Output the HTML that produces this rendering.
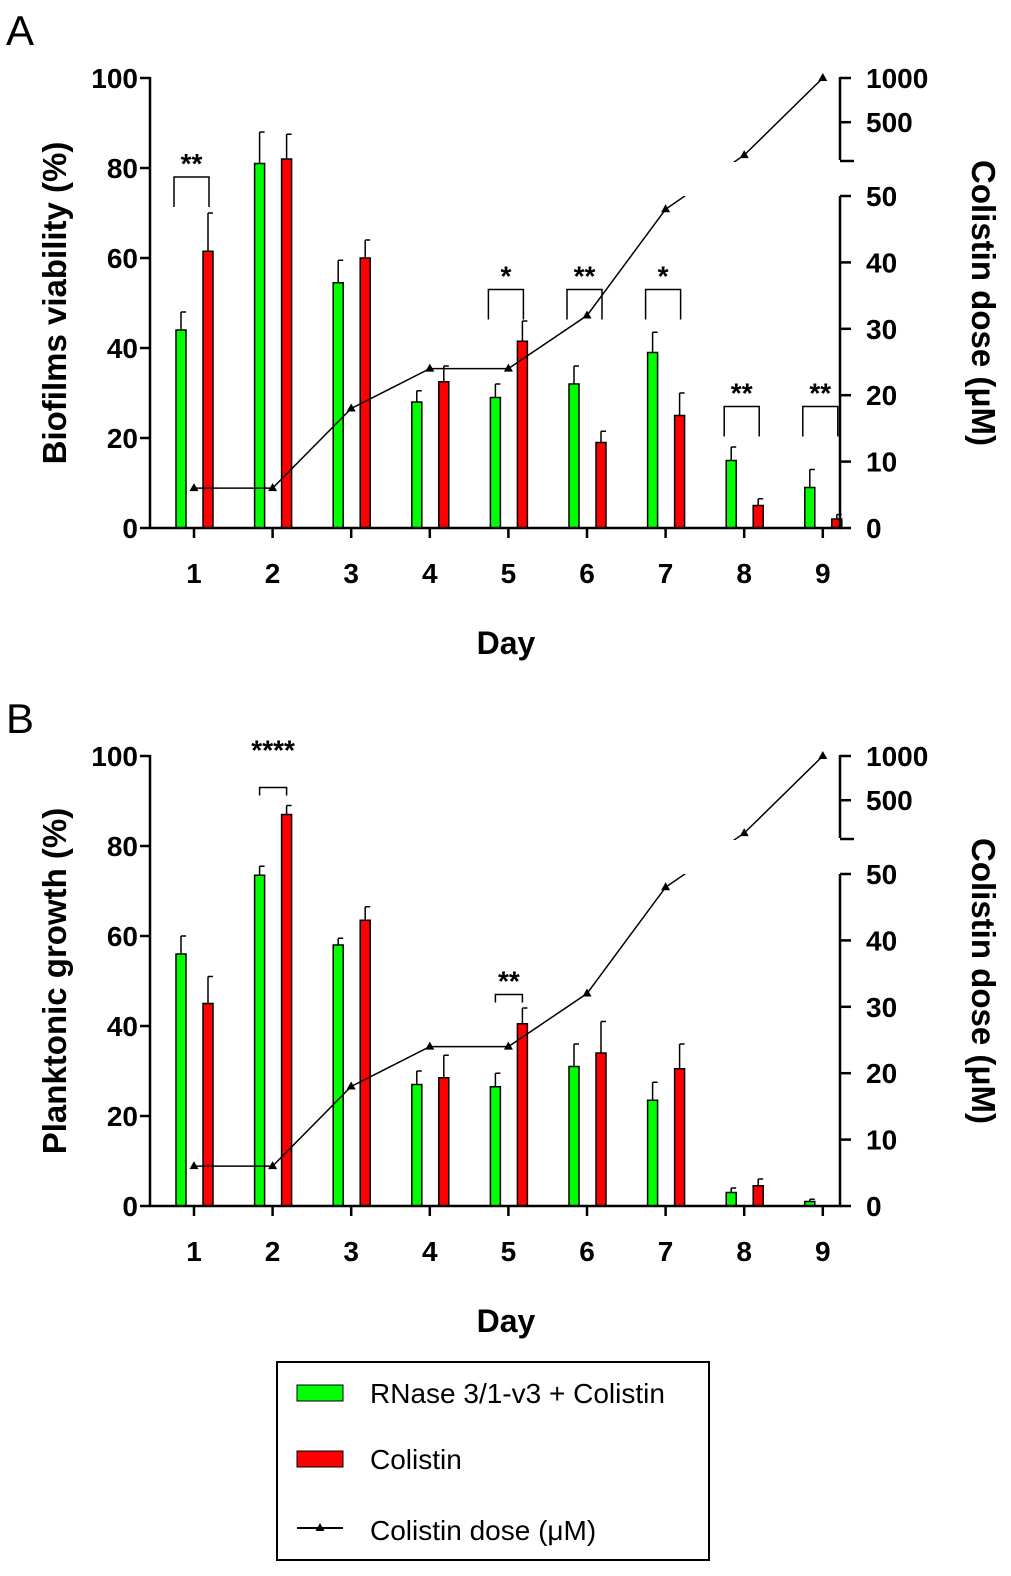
<!DOCTYPE html>
<html><head><meta charset="utf-8"><style>
body{margin:0;background:#fff}
svg{display:block;font-family:"Liberation Sans",Arial,sans-serif}
</style></head><body>
<svg id="chart" width="1011" height="1576" viewBox="0 0 1011 1576" xmlns="http://www.w3.org/2000/svg">
<text x="6" y="45" font-size="42">A</text>
<text x="6" y="733" font-size="42">B</text>
<g id="legend">
<rect x="277" y="1362" width="432" height="198" fill="none" stroke="#000" stroke-width="2"/>
<rect x="297" y="1385" width="46" height="16" fill="#00ff00" stroke="#000"/>
<text x="370" y="1403" font-size="28">RNase 3/1-v3 + Colistin</text>
<rect x="297" y="1451" width="46" height="16" fill="#ff0000" stroke="#000"/>
<text x="370" y="1469" font-size="28">Colistin</text>
<line x1="297" y1="1528" x2="343" y2="1528" stroke="#000" stroke-width="2"/>
<polygon points="320,1523 324.5,1531 315.5,1531" fill="#000"/>
<text x="370" y="1540" font-size="28">Colistin dose (μM)</text>
</g>
</svg>
<script>
const days = [1,2,3,4,5,6,7,8,9];
const doseValues = [6,6,18,24,24,32,48,128,1000];
const aGreen = [44,81,54.5,28,29,32,39,15,9];
const aGreenErr = [4,7,5,2.5,3,4,4.5,3,4];
const aRed = [61.5,82,60,32.5,41.5,19,25,5,2];
const aRedErr = [8.5,5.5,4,3.5,4.5,2.5,5,1.5,1];
const bGreen = [56,73.5,58,27,26.5,31,23.5,3,1];
const bGreenErr = [4,2,1.5,3,3,5,4,1,0.5];
const bRed = [45,87,63.5,28.5,40.5,34,30.5,4.5,0];
const bRedErr = [6,2,3,5,3.5,7,5.5,1.5,0];
const leftTicks = [0,20,40,60,80,100];
const rightLowTicks = [0,10,20,30,40,50];
const rightHighTicks = [500,1000];
const aSig = [{day:1,label:"**",h:78},{day:5,label:"*",h:53},{day:6,label:"**",h:53},{day:7,label:"*",h:53},{day:8,label:"**",h:27},{day:9,label:"**",h:27}];
const bSig = [{day:2,label:"****",h:93},{day:5,label:"**",h:47}];

const svg = document.getElementById('chart');
const NS = 'http://www.w3.org/2000/svg';
function mk(tag, attrs, parent){const e=document.createElementNS(NS,tag);for(const k in attrs)e.setAttribute(k,attrs[k]);(parent||svg).appendChild(e);return e;}

function panel(y0, green, gErr, red, rErr, sig, ytitle, key){
  const g = mk('g',{});
  
  
  const yL = v => y0 - v*4.5;
  const xD = d => 194 + (d-1)*78.6;
  const yR = v => v<=50 ? y0 - v*6.64 : (y0-366) - (v-50)/950*84;
  days.forEach((d,i)=>{
    const gx = xD(d)-18, rx = xD(d)+9;
    [[gx,green[i],gErr[i],'#00ff00','green'],[rx,red[i],rErr[i],'#ff0000','red']].forEach(([x,v,e,c,n])=>{
      if(v<=0) return;
      const r = mk('rect',{x:x,y:yL(v),width:10,height:v*4.5,fill:c,stroke:'#000','stroke-width':1.5},g);
      
      
      mk('line',{x1:x+5,x2:x+5,y1:yL(v),y2:yL(v+e),stroke:'#000','stroke-width':1.5},g);
      mk('line',{x1:x+5,x2:x+10,y1:yL(v+e),y2:yL(v+e),stroke:'#000','stroke-width':1.5},g);
    });
  });
  const pts = days.map((d,i)=>xD(d)+','+yR(doseValues[i])).join(' ');
  const pl = mk('polyline',{points:pts,fill:'none',stroke:'#000','stroke-width':1.5},g);
  
  
  mk('rect',{x:600,y:y0-366,width:240,height:34,fill:'#fff'},g);
  days.forEach((d,i)=>{
    const x=xD(d), y=yR(doseValues[i]);
    const m = mk('polygon',{points:`${x},${y-5} ${x+4.5},${y+3} ${x-4.5},${y+3}`,fill:'#000'},g);
    
    
  });
  mk('line',{x1:150,x2:150,y1:y0+1,y2:yL(100)-1,stroke:'#000','stroke-width':2.5},g);
  leftTicks.forEach(t=>{
    mk('line',{x1:140,x2:150,y1:yL(t),y2:yL(t),stroke:'#000','stroke-width':2.5},g);
    const tx = mk('text',{x:138,y:yL(t)+10,'font-size':28,'font-weight':'bold','text-anchor':'end'},g);
    tx.textContent=t;
  });
  mk('line',{x1:150,x2:841,y1:y0,y2:y0,stroke:'#000','stroke-width':2.5},g);
  days.forEach(d=>{
    mk('line',{x1:xD(d),x2:xD(d),y1:y0,y2:y0+10,stroke:'#000','stroke-width':2.5},g);
    const tx = mk('text',{x:xD(d),y:y0+55,'font-size':28,'font-weight':'bold','text-anchor':'middle'},g);
    tx.textContent=d;
  });
  mk('line',{x1:840,x2:840,y1:y0+1,y2:yR(50),stroke:'#000','stroke-width':2.5},g);
  mk('line',{x1:840,x2:840,y1:y0-368,y2:yR(1000)-1,stroke:'#000','stroke-width':2.5},g);
  mk('line',{x1:840,x2:854,y1:y0-367,y2:y0-367,stroke:'#000','stroke-width':2.5},g);
  rightLowTicks.concat(rightHighTicks).forEach(t=>{
    mk('line',{x1:840,x2:851,y1:yR(t),y2:yR(t),stroke:'#000','stroke-width':2.5},g);
    const tx = mk('text',{x:866,y:yR(t)+10,'font-size':28,'font-weight':'bold'},g);
    tx.textContent=t;
  });
  sig.forEach(s=>{
    const x1 = xD(s.day)-(key==='b'?13:20), x2 = xD(s.day)+(key==='b'?14:15);
    const yt = yL(s.h);
    mk('polyline',{points:`${x1},${yt+(key==='b'?8:30)} ${x1},${yt} ${x2},${yt} ${x2},${yt+(key==='b'?8:30)}`,fill:'none',stroke:'#000','stroke-width':1.5},g);
    const tx = mk('text',{x:(x1+x2)/2,y:key==='b'&&s.day===2?yt-28:yt-4,'font-size':28,'font-weight':'bold','text-anchor':'middle'},g);
    tx.textContent=s.label;
    
    
  });
  const xt = mk('text',{x:506,y:y0+126,'font-size':32,'font-weight':'bold','text-anchor':'middle'},g);
  xt.textContent='Day';
  
  
  const lt = mk('text',{x:0,y:0,'font-size':33,'font-weight':'bold','text-anchor':'middle',transform:`translate(66,${y0-225}) rotate(-90)`},g);
  lt.textContent=ytitle;
  
  
  const rt = mk('text',{x:0,y:0,'font-size':33,'font-weight':'bold','text-anchor':'middle',transform:`translate(972,${y0-225}) rotate(90)`},g);
  rt.textContent='Colistin dose (μM)';
  
  
}
panel(528, aGreen, aGreenErr, aRed, aRedErr, aSig, 'Biofilms viability (%)', 'a');
panel(1206, bGreen, bGreenErr, bRed, bRedErr, bSig, 'Planktonic growth  (%)', 'b');
</script>
</body></html>
